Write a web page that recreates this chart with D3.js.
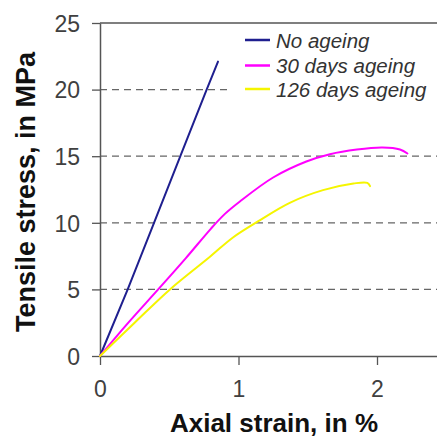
<!DOCTYPE html>
<html><head><meta charset="utf-8">
<script src="https://cdn.jsdelivr.net/npm/d3@7"></script>
<style>body{margin:0;background:#fff}svg{display:block}</style>
</head><body>
<script>
const seriesNames = ["No ageing", "30 days ageing", "126 days ageing"];
const seriesColors = ["#1f1f8f", "#ff00ff", "#f5f500"];
const noAgeingStrain = [0, 0.2, 0.39, 0.58, 0.77, 0.852];
const noAgeingStress = [0, 5, 10, 15, 20, 22.1];
const days30Strain = [0, 0.2, 0.42, 0.62, 0.8, 0.9, 1.01, 1.25, 1.49, 1.66, 1.855, 2.04, 2.166, 2.22];
const days30Stress = [0, 2.45, 5, 7.35, 9.55, 10.65, 11.6, 13.4, 14.6, 15.15, 15.5, 15.65, 15.5, 15.2];
const days126Strain = [0, 0.25, 0.505, 0.794, 0.96, 1.14, 1.37, 1.61, 1.83, 1.93, 1.95];
const days126Stress = [0, 2.5, 5, 7.45, 8.9, 10.1, 11.5, 12.45, 12.95, 13.0, 12.75];
const yTicks = [0, 5, 10, 15, 20, 25];
const xTicks = [0, 1, 2];
const gridValues = [5, 10, 15, 20];

const W = 437, H = 437;
const svg = d3.select("body").append("svg").attr("width", W).attr("height", H);
const x = d3.scaleLinear().domain([0, 2.4332]).range([100, 437]);
const y = d3.scaleLinear().domain([0, 25]).range([356, 23]);
const axisColor = "#555";
const font = "Liberation Sans, Arial, sans-serif";

// grid
svg.append("g").selectAll("line").data(gridValues).join("line")
  .attr("x1", 100).attr("x2", W).attr("y1", d => y(d)).attr("y2", d => y(d))
  .attr("stroke", "#666").attr("stroke-width", 1.2).attr("stroke-dasharray", "7,5");

// top border
svg.append("line").attr("x1", 100).attr("x2", W).attr("y1", y(25)).attr("y2", y(25))
  .attr("stroke", axisColor).attr("stroke-width", 1.5);

// y axis
const yAxis = svg.append("g").attr("transform", "translate(100,0)")
  .call(d3.axisLeft(y).tickValues(yTicks).tickSize(8).tickSizeOuter(0).tickPadding(12));
yAxis.select(".domain").attr("stroke", axisColor).attr("stroke-width", 1.5);
yAxis.selectAll(".tick line").attr("stroke", axisColor).attr("stroke-width", 1.3);
yAxis.selectAll("text").attr("font-family", font).attr("font-size", 23).attr("fill", "#404040").attr("dy", "0.36em");

// x axis
const xAxis = svg.append("g").attr("transform", `translate(0,${y(0)})`)
  .call(d3.axisBottom(x).tickValues(xTicks).tickFormat(d3.format("d")).tickSize(9).tickSizeOuter(0).tickPadding(16));
xAxis.select(".domain").attr("stroke", axisColor).attr("stroke-width", 1.5);
xAxis.selectAll(".tick line").attr("stroke", axisColor).attr("stroke-width", 1.3);
xAxis.selectAll("text").attr("font-family", font).attr("font-size", 23).attr("fill", "#404040").attr("dy", "0.71em");

// series
const series = [
  {strain: noAgeingStrain, stress: noAgeingStress},
  {strain: days30Strain, stress: days30Stress},
  {strain: days126Strain, stress: days126Stress}
];
const straight = d3.line().x(d => x(d[0])).y(d => y(d[1]));
const smooth = d3.line().x(d => x(d[0])).y(d => y(d[1])).curve(d3.curveCatmullRom.alpha(0.5));
series.forEach((s, i) => {
  const pts = s.strain.map((v, j) => [v, s.stress[j]]);
  svg.append("path").datum(pts)
    .attr("d", i === 0 ? straight(pts) : smooth(pts))
    .attr("fill", "none").attr("stroke", seriesColors[i]).attr("stroke-width", 2)
    .attr("stroke-linejoin", "round").attr("stroke-linecap", "round");
});

// legend
const leg = svg.append("g");
leg.append("rect").attr("x", 232).attr("y", 26).attr("width", W - 232).attr("height", 76).attr("fill", "#fff");
const legY = [40, 65.5, 89];
seriesNames.forEach((n, i) => {
  leg.append("line").attr("x1", 245).attr("x2", 270).attr("y1", legY[i]).attr("y2", legY[i])
    .attr("stroke", seriesColors[i]).attr("stroke-width", 2.5);
  leg.append("text").attr("x", 276).attr("y", legY[i] + 7.5).text(n)
    .attr("font-family", font).attr("font-style", "italic").attr("font-size", 20.5).attr("fill", "#333");
});

// titles
svg.append("text").attr("x", 274).attr("y", 432).attr("text-anchor", "middle")
  .attr("font-family", font).attr("font-weight", "bold").attr("font-size", 26).attr("fill", "#111")
  .text("Axial strain, in %");
svg.append("text").attr("transform", "translate(35,192) rotate(-90)").attr("text-anchor", "middle")
  .attr("font-family", font).attr("font-weight", "bold").attr("font-size", 27).attr("fill", "#111")
  .text("Tensile stress, in MPa");
</script>
</body></html>
